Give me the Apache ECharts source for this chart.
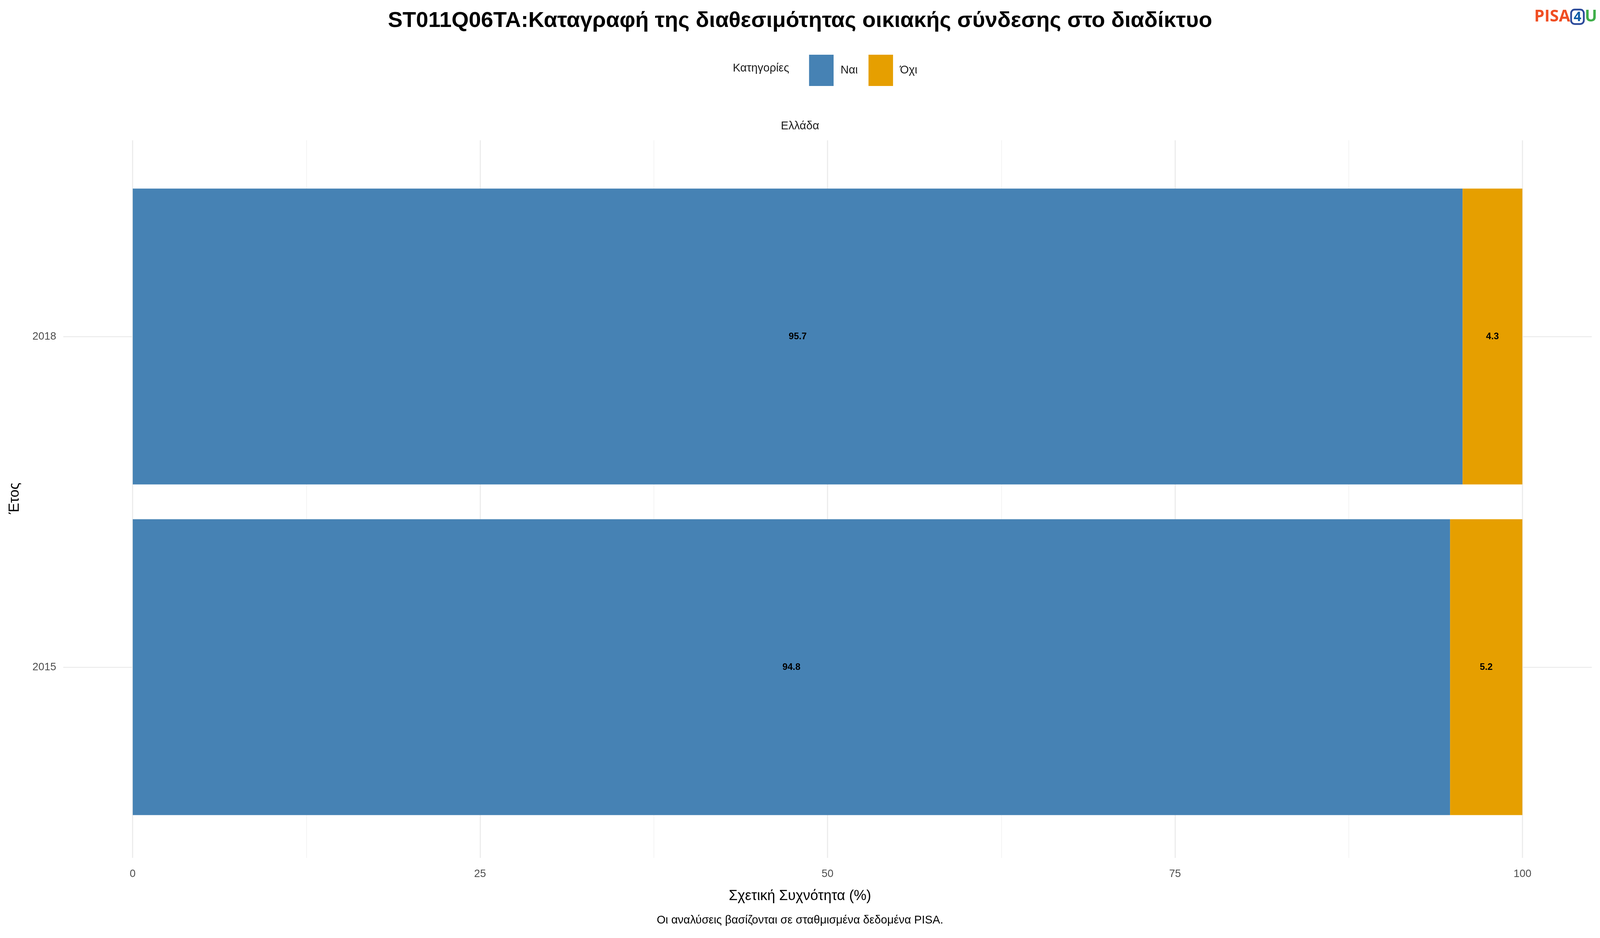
<!DOCTYPE html><html><head><meta charset="utf-8">
<script src="https://cdn.jsdelivr.net/npm/echarts@6/dist/echarts.min.js"></script>
<style>html,body{margin:0;padding:0;background:#fff;overflow:hidden}#c{width:100vw;height:100vh}</style></head>
<body><div id="c"></div><script>
const years = ['2015','2018'];
const seriesNames = ['Ναι','Όχι'];
const yesVals = [94.8, 95.7];
const noVals = [5.2, 4.3];
const F = 'Liberation Sans, Arial, sans-serif';
const W = window.innerWidth, H = window.innerHeight;
const sx = v => v*W/4500, sy = v => v*H/2400, sf = v => v*Math.min(W/4500,H/2400);
const chart = echarts.init(document.getElementById('c'));
const lbl = {show:true,position:'inside',color:'#000',fontWeight:'bold',fontSize:sf(26),fontFamily:F,formatter:p=>p.value.toFixed(1)};
chart.setOption({
  animation:false,
  textStyle:{fontFamily:F},
  title:{text:'ST011Q06TA:Καταγραφή της διαθεσιμότητας οικιακής σύνδεσης στο διαδίκτυο',left:'center',top:sy(20),
    textStyle:{fontSize:sf(62),fontWeight:'bold',color:'#000',fontFamily:F}},
  legend:{data:seriesNames,left:sx(2270),top:sy(135),itemWidth:sx(69),itemHeight:sy(80),itemGap:sx(30),
    textStyle:{fontSize:sf(32),color:'#1a1a1a',fontFamily:F,padding:[0,0,0,sx(14)]},icon:'rect'},
  graphic:[
    {type:'text',left:sx(2061),top:sy(160),style:{text:'Κατηγορίες',fontSize:sf(32),fill:'#1a1a1a',fontFamily:F}},
    {type:'text',left:'center',top:sy(308),style:{text:'Ελλάδα',fontSize:sf(32),fill:'#1a1a1a',fontFamily:F}},
    {type:'text',left:'center',top:sy(2275),style:{text:'Σχετική Συχνότητα (%)',fontSize:sf(40),fill:'#000',fontFamily:F}},
    {type:'text',left:'center',top:sy(2340),style:{text:'Οι αναλύσεις βασίζονται σε σταθμισμένα δεδομένα PISA.',fontSize:sf(32),fill:'#000',fontFamily:F}},
    {type:'text',left:sx(22),top:sy(1235),rotation:Math.PI/2,style:{text:'Έτος',fontSize:sf(40),fill:'#000',fontFamily:F}},
    {type:'text',right:sx(8),top:sy(22),style:{text:'{a|PISA}{g| }{b|4}{g| }{c|U}',rich:{
      a:{fontSize:sf(46),fontWeight:'bold',fill:'#F04E23',fontFamily:'Open Sans'},
      g:{fontSize:sf(10)},
      b:{fontSize:sf(38),fontWeight:'bold',fill:'#0B5CA8',borderColor:'#2B4A9A',borderWidth:sf(5),borderRadius:sf(10),padding:[sf(2),sf(7),0,sf(7)],fontFamily:'Open Sans'},
      c:{fontSize:sf(46),fontWeight:'bold',fill:'#3FAE49',fontFamily:'Open Sans'}}}}
  ],
  grid:[{left:sx(178),right:sx(23),top:sy(438),bottom:sy(270),outerBoundsMode:'none',containLabel:false},
        {left:sx(373),right:sx(218),top:sy(359),bottom:sy(205),outerBoundsMode:'none',containLabel:false}],
  xAxis:[
    {gridIndex:0,type:'value',min:-5,max:105,show:false,splitLine:{show:false}},
    {gridIndex:1,type:'value',min:0,max:100,interval:25,axisLine:{show:false},axisTick:{show:false},
      splitLine:{show:true,lineStyle:{color:'#ebebeb',width:sf(3)}},
      minorTick:{show:false,splitNumber:2},minorSplitLine:{show:true,lineStyle:{color:'#f3f3f3',width:sf(2)}},
      axisLabel:{fontSize:sf(30),color:'#4d4d4d',margin:sy(28),fontFamily:F}}
  ],
  yAxis:[
    {gridIndex:0,type:'category',data:years,axisLine:{show:false},axisTick:{show:false},
      axisLabel:{fontSize:sf(30),color:'#4d4d4d',margin:sx(20),fontFamily:F},splitLine:{show:false}},
    {gridIndex:1,type:'value',min:0,max:1,show:false,splitLine:{show:false}}
  ],
  series:[
    {type:'bar',name:seriesNames[0],stack:'s',data:yesVals,barWidth:'89.5%',itemStyle:{color:'#4682B4'},label:lbl,z:3,
      markLine:{symbol:'none',silent:true,z:1,label:{show:false},lineStyle:{color:'#ebebeb',width:sf(3),type:'solid'},
        data:years.map(y=>({yAxis:y}))}},
    {type:'bar',name:seriesNames[1],stack:'s',data:noVals,barWidth:'89.5%',itemStyle:{color:'#E69F00'},label:lbl,z:3}
  ]
});
</script></body></html>
